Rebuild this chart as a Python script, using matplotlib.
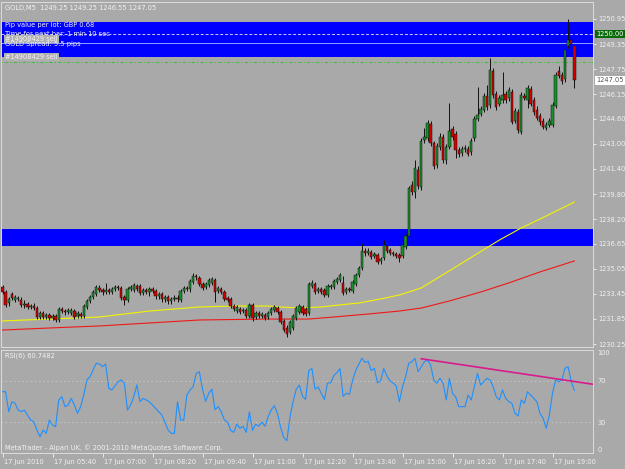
import numpy as np
import matplotlib
matplotlib.use('Agg')
import matplotlib.pyplot as plt
from matplotlib.transforms import blended_transform_factory, ScaledTranslation

W, H = 625, 469
BG = '#a9a9a9'
FG = '#f2f2f2'

plt.rcParams['font.family'] = 'DejaVu Sans'
plt.rcParams['font.size'] = 4.8

# ---- GOLD M5 candles, 17 Jun 2010 (one value per 5-minute bar) ----
opens = [
    1233.88, 1233.56, 1232.86, 1233.44, 1233.05, 1233.12, 1233.05, 1232.74, 1232.80, 1232.61,
    1232.67, 1232.54, 1231.97, 1232.23, 1231.97, 1232.10, 1231.91, 1232.04, 1231.78, 1232.48,
    1232.35, 1232.29, 1232.23, 1232.35, 1232.04, 1232.16, 1232.04, 1232.61, 1232.99, 1233.24,
    1233.44, 1233.82, 1233.69, 1233.56, 1233.69, 1233.56, 1233.75, 1233.88, 1233.82, 1233.24,
    1233.05, 1233.75, 1233.69, 1233.94, 1233.94, 1233.50, 1233.69, 1233.56, 1233.75, 1233.63,
    1233.31, 1233.44, 1233.12, 1233.24, 1232.99, 1233.12, 1233.18, 1233.05, 1233.63, 1233.82,
    1233.75, 1234.20, 1234.58, 1234.45, 1234.07, 1233.88, 1234.01, 1234.14, 1234.33, 1233.63,
    1233.75, 1233.56, 1233.18, 1233.12, 1232.67, 1232.35, 1232.48, 1232.35, 1232.42, 1232.04,
    1232.74, 1231.97, 1232.23, 1232.04, 1232.10, 1231.97, 1232.23, 1232.42, 1232.54, 1232.29,
    1231.72, 1231.27, 1231.01, 1231.27, 1231.91, 1232.29, 1232.61, 1232.48, 1232.23, 1233.94,
    1234.07, 1233.63, 1233.75, 1233.69, 1233.37, 1233.88, 1233.88, 1234.20, 1234.33, 1234.14,
    1233.56, 1233.75, 1233.63, 1234.07, 1234.65, 1235.09, 1236.17, 1236.05, 1236.11, 1235.86,
    1235.92, 1235.54, 1235.73, 1236.49, 1236.24, 1236.05, 1235.98, 1235.92, 1235.86, 1236.43,
    1237.13, 1240.38, 1239.93, 1241.33, 1240.25, 1243.24, 1243.37, 1244.26, 1243.05, 1241.65,
    1242.80, 1243.43, 1241.97, 1242.80, 1243.94, 1243.63, 1242.61, 1242.42, 1242.67, 1242.67,
    1242.48, 1243.37, 1244.58, 1244.90, 1245.15, 1246.05, 1245.47, 1247.64, 1246.17, 1245.54,
    1245.79, 1246.17, 1245.92, 1246.30, 1244.45, 1245.03, 1243.75, 1246.05, 1245.79, 1246.49,
    1245.79, 1245.15, 1244.77, 1244.45, 1244.01, 1244.20, 1244.20, 1245.41, 1247.64, 1247.38,
    1247.13, 1249.23, 1249.61, 1249.25,
]
highs = [
    1234.01, 1233.69, 1233.24, 1233.56, 1233.37, 1233.31, 1233.24, 1233.05, 1232.93, 1232.80,
    1232.86, 1232.67, 1232.35, 1232.35, 1232.23, 1232.23, 1232.16, 1232.16, 1232.61, 1232.61,
    1232.48, 1232.54, 1232.54, 1232.48, 1232.35, 1232.29, 1232.80, 1233.12, 1233.37, 1233.69,
    1234.01, 1234.01, 1233.82, 1234.14, 1233.82, 1233.88, 1234.01, 1234.01, 1233.94, 1233.37,
    1233.88, 1234.01, 1234.14, 1234.07, 1234.07, 1233.82, 1233.82, 1233.88, 1233.88, 1233.75,
    1233.56, 1233.56, 1233.37, 1233.37, 1233.24, 1233.37, 1233.37, 1233.75, 1233.94, 1233.94,
    1234.39, 1234.77, 1234.71, 1234.58, 1234.20, 1234.20, 1234.45, 1234.52, 1234.45, 1233.94,
    1233.88, 1233.69, 1233.31, 1233.24, 1232.80, 1232.74, 1232.61, 1232.54, 1232.54, 1232.86,
    1232.86, 1232.35, 1232.35, 1232.29, 1232.23, 1232.35, 1232.61, 1232.74, 1232.67, 1232.42,
    1231.84, 1231.46, 1231.78, 1232.16, 1232.67, 1232.80, 1232.74, 1232.61, 1234.20, 1234.33,
    1234.20, 1233.88, 1233.88, 1233.82, 1234.07, 1234.07, 1234.39, 1234.52, 1234.77, 1234.58,
    1233.88, 1233.88, 1234.33, 1234.77, 1235.22, 1236.68, 1236.36, 1236.36, 1236.24, 1236.11,
    1236.05, 1235.79, 1236.87, 1236.62, 1236.36, 1236.17, 1236.11, 1236.05, 1236.68, 1237.26,
    1240.31, 1240.63, 1241.97, 1241.59, 1243.37, 1244.01, 1244.52, 1244.45, 1243.18, 1243.05,
    1243.69, 1243.63, 1242.99, 1245.60, 1244.14, 1243.82, 1242.80, 1242.86, 1242.92, 1242.86,
    1243.37, 1244.77, 1246.62, 1245.41, 1246.24, 1246.75, 1248.47, 1247.83, 1246.36, 1246.11,
    1247.57, 1246.36, 1246.62, 1246.49, 1245.28, 1245.22, 1246.30, 1246.24, 1246.75, 1246.68,
    1245.98, 1245.41, 1244.96, 1244.65, 1244.39, 1244.65, 1245.66, 1247.57, 1247.96, 1247.57,
    1249.17, 1250.95, 1249.80, 1249.25,
]
lows = [
    1233.44, 1232.61, 1232.67, 1233.05, 1232.93, 1232.99, 1232.61, 1232.54, 1232.48, 1232.48,
    1232.42, 1231.84, 1231.84, 1231.84, 1231.84, 1231.78, 1231.78, 1231.65, 1231.65, 1232.23,
    1232.10, 1232.16, 1232.10, 1231.84, 1231.91, 1231.91, 1231.91, 1232.48, 1232.86, 1233.12,
    1233.31, 1233.56, 1233.37, 1233.44, 1233.44, 1233.44, 1233.63, 1233.69, 1233.05, 1232.74,
    1232.93, 1233.63, 1233.56, 1233.63, 1233.37, 1233.37, 1233.44, 1233.31, 1233.50, 1233.12,
    1233.12, 1232.93, 1232.93, 1232.80, 1232.80, 1232.99, 1232.93, 1232.93, 1233.50, 1233.63,
    1233.56, 1234.07, 1234.33, 1233.94, 1233.69, 1233.75, 1233.88, 1234.01, 1232.93, 1233.50,
    1233.44, 1232.99, 1232.93, 1232.54, 1232.35, 1232.23, 1232.16, 1232.23, 1231.91, 1231.91,
    1231.72, 1231.84, 1231.91, 1231.91, 1231.78, 1231.84, 1232.10, 1232.29, 1232.16, 1231.52,
    1231.01, 1230.70, 1230.89, 1231.14, 1231.78, 1232.16, 1232.10, 1232.04, 1232.10, 1233.82,
    1233.44, 1233.50, 1233.44, 1233.24, 1233.24, 1233.75, 1233.75, 1234.07, 1234.20, 1233.37,
    1233.44, 1233.56, 1233.50, 1233.94, 1234.52, 1234.96, 1235.86, 1235.92, 1235.66, 1235.73,
    1235.35, 1235.35, 1235.60, 1236.05, 1235.92, 1235.86, 1235.73, 1235.47, 1235.73, 1236.30,
    1237.00, 1239.74, 1239.55, 1240.12, 1240.06, 1243.05, 1243.18, 1242.86, 1241.40, 1241.46,
    1242.61, 1241.78, 1241.71, 1242.67, 1243.24, 1242.10, 1242.16, 1242.23, 1242.48, 1242.23,
    1242.29, 1243.18, 1244.45, 1244.77, 1245.03, 1245.15, 1245.28, 1245.92, 1245.15, 1245.41,
    1245.60, 1245.60, 1245.73, 1244.26, 1244.33, 1243.69, 1243.63, 1245.79, 1245.28, 1245.41,
    1244.84, 1244.52, 1244.20, 1243.94, 1243.88, 1244.07, 1244.07, 1245.28, 1247.19, 1246.81,
    1246.94, 1249.10, 1249.23, 1246.55,
]
closes = [
    1233.56, 1232.74, 1233.12, 1233.18, 1233.24, 1233.18, 1232.74, 1232.80, 1232.61, 1232.67,
    1232.54, 1231.97, 1232.23, 1231.97, 1232.10, 1231.91, 1232.04, 1231.78, 1232.48, 1232.35,
    1232.29, 1232.42, 1232.42, 1231.97, 1232.23, 1232.04, 1232.67, 1232.99, 1233.24, 1233.56,
    1233.88, 1233.69, 1233.56, 1233.69, 1233.56, 1233.75, 1233.88, 1233.82, 1233.18, 1233.05,
    1233.75, 1233.88, 1234.01, 1233.75, 1233.50, 1233.69, 1233.56, 1233.75, 1233.63, 1233.31,
    1233.44, 1233.12, 1233.24, 1232.99, 1233.12, 1233.18, 1233.12, 1233.63, 1233.82, 1233.75,
    1234.26, 1234.58, 1234.52, 1234.07, 1233.82, 1234.07, 1234.33, 1234.39, 1233.56, 1233.82,
    1233.56, 1233.12, 1233.05, 1232.67, 1232.48, 1232.61, 1232.29, 1232.42, 1232.04, 1232.74,
    1231.91, 1232.23, 1232.04, 1232.16, 1231.91, 1232.23, 1232.48, 1232.61, 1232.29, 1231.65,
    1231.14, 1230.89, 1231.65, 1232.04, 1232.54, 1232.67, 1232.23, 1232.16, 1234.07, 1234.14,
    1233.56, 1233.75, 1233.56, 1233.37, 1233.94, 1233.94, 1234.26, 1234.39, 1234.65, 1233.50,
    1233.75, 1233.69, 1234.20, 1234.65, 1235.09, 1236.17, 1236.05, 1236.17, 1235.79, 1235.98,
    1235.47, 1235.66, 1236.56, 1236.17, 1236.05, 1235.98, 1235.86, 1235.73, 1236.56, 1237.13,
    1240.19, 1239.93, 1241.46, 1240.31, 1243.18, 1243.43, 1244.33, 1243.05, 1241.59, 1242.86,
    1243.43, 1241.97, 1242.80, 1243.82, 1243.43, 1242.61, 1242.35, 1242.67, 1242.74, 1242.35,
    1243.18, 1244.58, 1244.84, 1245.22, 1246.05, 1245.35, 1247.70, 1246.11, 1245.35, 1245.92,
    1246.11, 1245.79, 1246.43, 1244.39, 1245.09, 1243.88, 1246.11, 1245.92, 1246.56, 1245.54,
    1245.03, 1244.65, 1244.39, 1244.07, 1244.20, 1244.45, 1245.47, 1247.38, 1247.32, 1247.00,
    1248.98, 1249.61, 1249.36, 1247.05,
]

# moving averages, read at a few bars
ma_yellow_bar = [0, 15, 31, 47, 63, 74, 85, 89, 95, 102, 108, 114, 121, 127, 134, 146, 159, 166, 172, 183]
ma_yellow = [1231.72, 1231.84, 1231.97, 1232.35, 1232.61, 1232.67, 1232.67, 1232.61, 1232.54, 1232.61,
             1232.74, 1232.86, 1233.12, 1233.37, 1233.82, 1235.28, 1236.87, 1237.64, 1238.21, 1239.29]
ma_red_bar = [0, 15, 31, 47, 63, 85, 98, 106, 117, 127, 134, 143, 153, 162, 172, 183]
ma_red = [1231.14, 1231.27, 1231.40, 1231.59, 1231.78, 1231.84, 1231.84, 1231.97, 1232.16, 1232.35,
          1232.54, 1232.99, 1233.56, 1234.14, 1234.84, 1235.54]

# RSI(6)
rsi_bar = [0, 1, 2, 3, 4, 5, 6, 7, 9, 10, 11, 12, 13, 14, 15, 16, 17, 18, 19, 20,
           21, 22, 23, 24, 25, 26, 27, 28, 29, 30, 31, 32, 33, 34, 35, 37, 38, 39, 40, 41,
           42, 43, 44, 45, 47, 48, 50, 51, 53, 54, 55, 56, 57, 58, 59, 60, 61, 62, 63, 64,
           65, 66, 67, 68, 69, 70, 71, 72, 73, 74, 75, 76, 77, 78, 79, 80, 81, 82, 83, 84,
           85, 86, 87, 88, 89, 90, 91, 92, 93, 94, 95, 96, 97, 98, 99, 100, 101, 102, 103, 104,
           105, 106, 107, 108, 109, 110, 111, 112, 113, 114, 115, 116, 117, 118, 119, 120, 121, 122, 123, 124,
           125, 126, 127, 128, 129, 130, 131, 132, 133, 134, 135, 136, 137, 138, 139, 140, 141, 142, 143, 144,
           145, 146, 147, 148, 149, 150, 151, 152, 153, 154, 155, 156, 157, 158, 159, 160, 161, 162, 163, 164,
           165, 166, 167, 168, 169, 170, 171, 172, 173, 174, 175, 176, 177, 178, 179, 180, 181, 182, 183]
rsi_val = [59.5, 59.5, 40.1, 49.8, 48.5, 41.7, 40.1, 41.7, 32.0, 30.4, 22.3, 15.8, 22.3, 19.1, 32.0, 27.2, 25.5, 51.5, 54.7, 45.0,
           46.6, 53.1, 46.6, 38.5, 45.0, 56.3, 70.9, 74.1, 80.6, 87.1, 86.4, 83.8, 86.4, 62.8, 61.2, 69.2, 70.9, 67.7, 41.7, 46.6,
           54.7, 66.0, 49.8, 53.1, 49.8, 46.6, 40.1, 36.9, 22.3, 19.1, 19.1, 49.8, 32.0, 32.0, 56.3, 61.2, 64.4, 77.4, 78.9, 62.0,
           50.0, 58.0, 62.0, 42.0, 45.0, 40.0, 32.0, 30.0, 22.0, 20.0, 28.0, 24.0, 26.0, 20.0, 40.0, 22.0, 28.0, 26.0, 30.0, 26.0,
           35.0, 42.0, 46.0, 38.0, 25.0, 15.0, 12.0, 35.0, 50.0, 62.0, 66.0, 55.0, 52.0, 80.0, 82.0, 62.0, 64.0, 58.0, 52.0, 68.0,
           68.0, 75.0, 78.0, 82.0, 55.0, 58.0, 57.0, 70.0, 80.0, 86.0, 92.0, 88.0, 89.0, 80.0, 82.0, 68.0, 70.0, 82.0, 75.0, 70.0,
           68.0, 65.0, 49.8, 64.4, 74.1, 87.1, 88.6, 91.9, 78.9, 83.8, 88.6, 90.3, 85.4, 70.9, 67.7, 72.5, 67.7, 51.5, 72.5, 58.0,
           54.7, 45.0, 45.0, 45.0, 56.3, 51.5, 64.4, 77.4, 66.0, 69.2, 72.5, 70.9, 64.4, 54.7, 51.5, 61.2, 53.1, 49.8, 48.3, 38.5,
           35.9, 51.5, 48.3, 59.5, 56.3, 53.0, 49.8, 38.5, 33.7, 24.0, 36.9, 58.0, 70.9, 69.2, 70.9, 82.2, 83.8, 69.2, 60.7]

trend_bar = [134, 189]
trend_rsi = [91.5, 66.7]

price_ticks = [1230.25, 1231.85, 1233.45, 1235.05, 1236.65, 1238.20, 1239.80,
               1241.40, 1243.00, 1244.60, 1246.15, 1247.75, 1249.35, 1250.95]
time_ticks = [0, 16, 32, 48, 64, 80, 96, 112, 128, 144, 160, 176]
time_labels = ['17 Jun 2010', '17 Jun 05:40', '17 Jun 07:00', '17 Jun 08:20', '17 Jun 09:40',
               '17 Jun 11:00', '17 Jun 12:20', '17 Jun 13:40', '17 Jun 15:00', '17 Jun 16:20',
               '17 Jun 17:40', '17 Jun 19:00']

zones = [(1248.53, 1250.76), (1236.46, 1237.57)]
tp_level = 1250.00
ask_level = 1249.40
sell_level = 1248.21
bid = 1247.05


def fx(px):
    return px / W


def fy(py):
    return 1 - py / H


fig = plt.figure(figsize=(W / 100, H / 100), dpi=100, facecolor=BG)
ax = fig.add_axes([fx(1), fy(347), fx(593) - fx(1), fy(2) - fy(347)], facecolor=BG)
rax = fig.add_axes([fx(1), fy(453), fx(593) - fx(1), fy(350) - fy(453)], facecolor=BG, sharex=ax)

# price panel
for lo, hi in zones:
    ax.axhspan(lo, hi, color='#0000ff', lw=0, zorder=1)
ax.axhline(tp_level, color='#c8c8f4', lw=0.7, ls=(0, (3, 2)), zorder=2)
ax.axhline(ask_level, color='#8fa0ff', lw=0.7, zorder=2)
ax.axhline(sell_level, color='#40c040', lw=0.8, ls=(0, (1, 2, 3, 2)), zorder=2)

ax.plot(ma_yellow_bar, ma_yellow, color='#f4f400', lw=0.8, zorder=2)
ax.plot(ma_red_bar, ma_red, color='#f01818', lw=0.8, zorder=2)

o = np.array(opens)
c = np.array(closes)
idx = np.arange(len(o))
up = c >= o
ax.vlines(idx, lows, highs, color='#111111', lw=0.7, zorder=3)
ax.bar(idx[up], (c - o)[up], bottom=o[up], width=0.78, color='#18902c',
       edgecolor='#111111', linewidth=0.35, zorder=4)
ax.bar(idx[~up], (c - o)[~up], bottom=o[~up], width=0.78, color='#d40000',
       edgecolor='#111111', linewidth=0.35, zorder=4)

ax.set_xlim(-0.48, 188.96)
ax.set_ylim(1230.06, 1252.03)
ax.yaxis.tick_right()
ax.set_yticks(price_ticks)
ax.set_yticklabels(['%.2f' % p for p in price_ticks])
ax.tick_params(axis='y', length=2, width=0.6, color=FG, labelcolor=FG, labelsize=4.8, pad=1.5)
ax.tick_params(axis='x', bottom=False, labelbottom=False)

tr = blended_transform_factory(ax.transAxes, ax.transData)
ax.text(1.006, tp_level, '1250.00', transform=tr, ha='left', va='center', color='white',
        fontsize=4.8, bbox=dict(boxstyle='square,pad=0.2', fc='#0b6b0b', ec='none'))
ax.text(1.006, bid, '1247.05', transform=tr, ha='left', va='center', color='#555555',
        fontsize=4.8, bbox=dict(boxstyle='square,pad=0.2', fc='white', ec='none'))

# RSI panel
rax.axhline(70, color='#c8c8c8', lw=0.6, ls=(0, (2, 3)))
rax.axhline(30, color='#c8c8c8', lw=0.6, ls=(0, (2, 3)))
rax.plot(rsi_bar, rsi_val, color='#1e90ff', lw=0.8)
rax.plot(trend_bar, trend_rsi, color='#d81b8c', lw=1.2)
rax.set_ylim(0, 100)
rax.yaxis.tick_right()
rax.set_yticks([0, 30, 70, 100])
rax.set_yticklabels(['0', '30', '70', '100'])
rax.tick_params(axis='y', length=0, labelcolor=FG, labelsize=4.8, pad=3)
rl = rax.get_yticklabels()
rl[0].set_va('bottom')
rl[-1].set_va('top')

rax.set_xticks(time_ticks)
rax.set_xticklabels(time_labels)
rax.tick_params(axis='x', direction='out', length=3, width=0.6, color=FG, labelcolor=FG,
                labelsize=4.8, pad=1)
shift = ScaledTranslation(2 / 100, 0, fig.dpi_scale_trans)
for lab in rax.get_xticklabels():
    lab.set_ha('left')
    lab.set_transform(lab.get_transform() + shift)

for a in (ax, rax):
    for s in a.spines.values():
        s.set_color('#dcdcdc')
        s.set_linewidth(0.7)

# texts
fig.text(fx(5), fy(8), 'GOLD,M5  1249.25 1249.25 1246.55 1247.05', color=FG, va='center')
fig.text(fx(5), fy(25), 'Pip value per lot: GBP 0.68', color=FG, va='center')
fig.text(fx(5), fy(34.5), 'Time for next bar: 1 min 10 sec', color=FG, va='center')
fig.text(fx(5), fy(39), '#14908429 sell', color=FG, va='center',
         bbox=dict(boxstyle='square,pad=0.15', fc='#b0b0b0', ec='none'))
fig.text(fx(5), fy(44), 'GOLD Spread: 5.5 pips', color=FG, va='center')
fig.text(fx(5), fy(57), '#14908429 sell', color=FG, va='center',
         bbox=dict(boxstyle='square,pad=0.15', fc='#b0b0b0', ec='none'))
fig.text(fx(5), fy(356), 'RSI(6) 60.7482', color=FG, va='center')
fig.text(fx(5), fy(448), 'MetaTrader - Alpari UK, \u00a9 2001-2010 MetaQuotes Software Corp.',
         color=FG, va='center')

fig.savefig('out.png', dpi=100, facecolor=BG)
